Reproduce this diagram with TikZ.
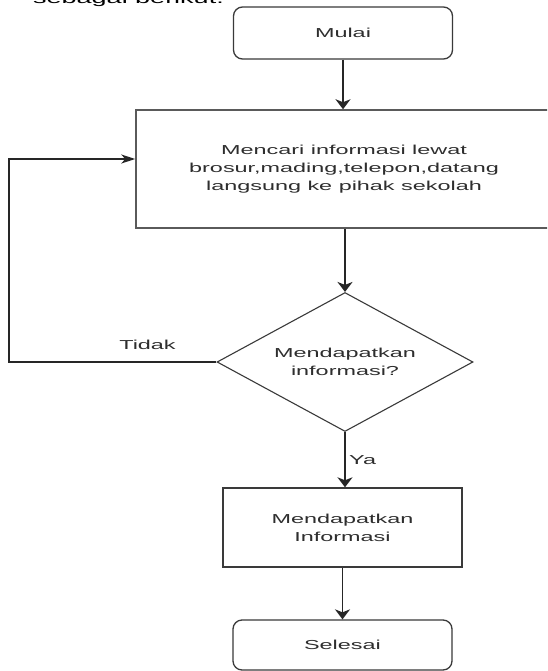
\documentclass[tikz,border=0pt]{standalone}
\usepackage{fontspec}
\usetikzlibrary{shapes.geometric,arrows.meta}
\newfontfamily\widesans{Liberation Sans}[FakeStretch=1.8]
\definecolor{ink}{HTML}{2E2E2E}
\definecolor{edge}{HTML}{3A3A3A}
\definecolor{softedge}{HTML}{5A5A5A}
\tikzset{
  lbl/.style={font=\widesans\fontsize{13}{18}\selectfont, text=ink},
  terminal/.style={lbl, draw=edge, line width=1.3pt, rounded corners=9pt, align=center},
  procbox/.style={lbl, draw=softedge, line width=1.5pt, align=center},
  decision/.style={lbl, draw=edge, line width=1.1pt, shape=diamond, aspect=1.84, inner sep=2pt, align=center},
  downflow/.style={draw=black!85, line width=1.9pt, -{Stealth[length=10pt,width=15pt,inset=3pt]}},
  sideflow/.style={draw=black!85, line width=1.3pt, -{Stealth[length=14pt,width=9pt,inset=4pt]}},
}
\begin{document}
\begin{tikzpicture}[x=1pt,y=-1pt]
\useasboundingbox (0,0) rectangle (547,671);
\clip (0,0) rectangle (547,671);
\fill[white] (0,0) rectangle (547,671);

% heading line from the surrounding text, cut at the top edge
\node[anchor=base west, inner sep=0pt, font=\widesans\fontsize{15}{18}\selectfont, text=black] (heading) at (33,4) {sebagai berikut:};

% flowchart nodes
\node[terminal, minimum width=219pt, minimum height=52pt] (start) at (343,33) {Mulai};
\node[procbox, minimum width=416pt, minimum height=118pt] (search) at (344,169)
  {Mencari informasi lewat\\brosur,mading,telepon,datang\\langsung ke pihak sekolah};
\node[decision, minimum width=256pt, minimum height=139pt] (check) at (345,362)
  {Mendapatkan\\informasi?};
\node[procbox, draw=edge, line width=1.4pt, minimum width=239pt, minimum height=79pt] (found) at (342.5,527.5)
  {Mendapatkan\\Informasi};
\node[terminal, minimum width=219pt, minimum height=50pt] (finish) at (342.5,645) {Selesai};

% corner points of the loop back
\coordinate (loopA) at (9,362);
\coordinate (loopB) at (9,159);

% connectors
\draw[downflow] (start.south) -- (start.south |- search.north);
\draw[downflow] (check.north |- search.south) -- (check.north);
\draw[downflow] (check.south) -- (check.south |- found.north);
\draw[downflow] (found.south) -- (found.south |- finish.north);
\draw[sideflow] (check.west) -- (loopA) -- (loopB) -- (loopB -| search.west);

% branch labels
\node[lbl, inner sep=0pt] (no) at (147.5,345) {Tidak};
\node[lbl, inner sep=0pt, anchor=west] (yes) at (349,460) {Ya};
\end{tikzpicture}
\end{document}
